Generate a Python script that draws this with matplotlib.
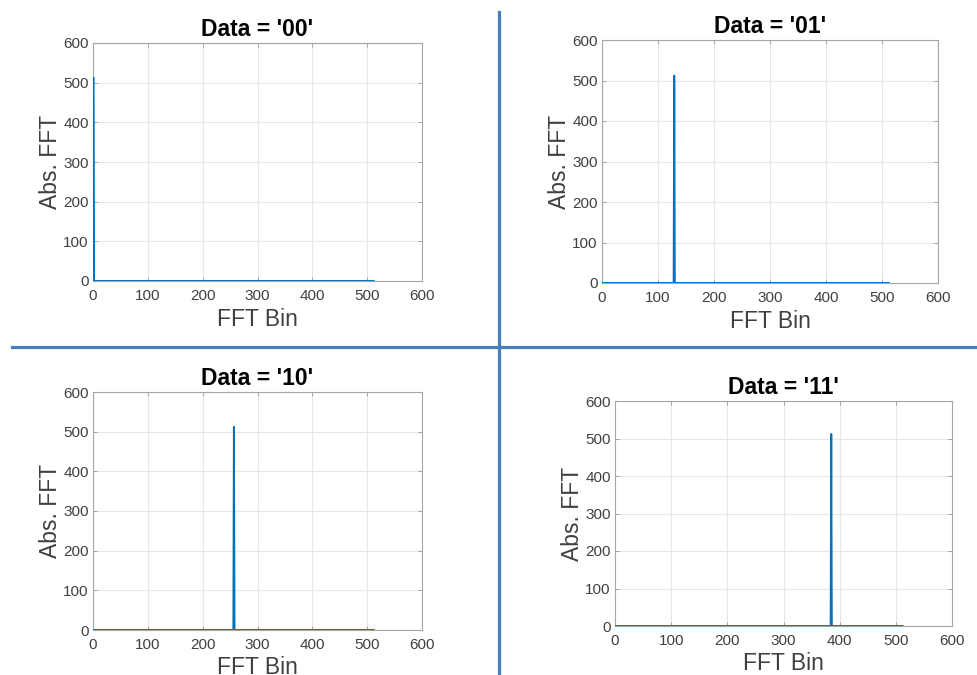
import numpy as np
import matplotlib.pyplot as plt
from matplotlib.lines import Line2D

plt.rcParams["font.family"] = ["Liberation Sans", "DejaVu Sans"]

# 512-point FFT magnitude, one spike per symbol
n_bins = 512
titles = ["Data = '00'", "Data = '01'", "Data = '10'", "Data = '11'"]
peak_bins = [1, 129, 257, 385]
peak_heights = [512, 512, 512, 512]
ticks = [0, 100, 200, 300, 400, 500, 600]

W, H = 978, 675
# axes boxes in pixels: left, top, right, bottom
boxes = [
    (93, 43, 422, 281),
    (602, 40, 938, 283),
    (93, 392, 422, 630),
    (615, 401, 952, 626),
]

line_col = "#0072BD"
txt_col = "#404040"

fig = plt.figure(figsize=(W / 100, H / 100), dpi=100)

for title, pb, ph, (l, t, r, b) in zip(titles, peak_bins, peak_heights, boxes):
    ax = fig.add_axes([l / W, 1 - b / H, (r - l) / W, (b - t) / H])
    x = np.arange(1, n_bins + 1)
    y = np.zeros(n_bins)
    y[pb - 1] = ph
    ax.plot(x, y, color=line_col, lw=1.4, zorder=3)
    ax.set_xlim(0, 600)
    ax.set_ylim(0, 600)
    ax.set_xticks(ticks)
    ax.set_yticks(ticks)
    ax.grid(True, color="#e6e6e6", lw=0.8)
    ax.set_axisbelow(True)
    ax.tick_params(direction="in", length=3, width=0.6, colors="#999999",
                   labelcolor=txt_col, labelsize=11, top=True, right=True)
    ax.tick_params(axis="x", pad=6)
    ax.tick_params(axis="y", pad=3)
    for s in ax.spines.values():
        s.set_color("#a6a6a6")
        s.set_linewidth(0.8)
        s.set_zorder(2)
    ax.set_title(title, fontsize=16.5, fontweight="bold", pad=5)
    ax.set_xlabel("FFT Bin", fontsize=16.5, color=txt_col, labelpad=3)
    ax.set_ylabel("Abs. FFT", fontsize=16.5, color=txt_col, labelpad=1)

# blue divider lines between the panels
fig.add_artist(Line2D([12 / W, 1], [1 - 347 / H, 1 - 347 / H],
                      color="#4a7ebb", lw=2.3, transform=fig.transFigure))
fig.add_artist(Line2D([499 / W, 499 / W], [1 - 12 / H, 0],
                      color="#4a7ebb", lw=2.3, transform=fig.transFigure))

fig.savefig("out.png", dpi=100, facecolor="white")
